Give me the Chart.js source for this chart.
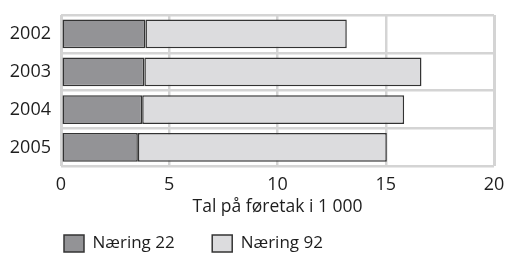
<!DOCTYPE html>
<html>
<head>
<meta charset="utf-8">
<script src="https://cdn.jsdelivr.net/npm/chart.js@4/dist/chart.umd.min.js"></script>
<style>
    html, body { margin: 0; padding: 0; background: #fff; }
    #wrap { width: 505px; height: 256px; }
</style>
</head>
<body>
<div id="wrap"><canvas id="chart"></canvas></div>
<script>
// Data
const YEARS = ['2002', '2003', '2004', '2005'];
const NAERING_22 = [3.9, 3.85, 3.75, 3.55];
const NAERING_92 = [9.3, 12.8, 12.1, 11.5];
const X_MIN = 0;
const X_MAX = 20;
const X_STEP = 5;

const FONT = "'Open Sans', 'Noto Sans', sans-serif";
const GRID = '#d4d4d4';
const TEXT = '#1e1e1e';
const LEGEND_PAD = 37.5;

// Flytter legend til ønsket plass (Chart.js har ikke egen offset for dette)
const legendPlace = {
    id: 'legendPlace',
    beforeDraw(chart) {
        chart.legend.left = 64 - LEGEND_PAD;
        chart.legend.top = 235 - LEGEND_PAD;
    }
};

new Chart(document.getElementById('chart'), {
    type: 'bar',
    data: {
        labels: YEARS,
        datasets: [
            {
                label: 'Næring 22',
                data: NAERING_22,
                backgroundColor: '#939396',
                borderColor: '#333333',
                borderWidth: 1.5,
                borderSkipped: false
            },
            {
                label: 'Næring 92',
                data: NAERING_92,
                backgroundColor: '#dcdcde',
                borderColor: '#333333',
                borderWidth: 1.5,
                borderSkipped: false
            }
        ]
    },
    options: {
        indexAxis: 'y',
        responsive: true,
        maintainAspectRatio: false,
        animation: false,
        categoryPercentage: 1,
        barPercentage: 0.76,
        layout: { padding: { top: 15, right: 11, left: 0, bottom: 0 } },
        plugins: {
            tooltip: { enabled: false },
            legend: {
                position: 'bottom',
                align: 'start',
                maxHeight: 38,
                labels: {
                    boxWidth: 20,
                    boxHeight: 17,
                    padding: LEGEND_PAD,
                    color: TEXT,
                    font: { family: FONT, size: 17 }
                }
            }
        },
        scales: {
            x: {
                stacked: true,
                min: X_MIN,
                max: X_MAX,
                afterFit(scale) { scale.paddingRight = 11; },
                ticks: {
                    stepSize: X_STEP,
                    padding: 8,
                    color: TEXT,
                    font: { family: FONT, size: 18 }
                },
                grid: {
                    color: GRID,
                    lineWidth: (ctx) => (ctx.tick && (ctx.tick.value === X_MIN || ctx.tick.value === X_MAX)) ? 3 : 2.5,
                    drawTicks: false
                },
                border: { display: false },
                title: {
                    display: true,
                    text: 'Tal på føretak i 1 000',
                    color: TEXT,
                    font: { family: FONT, size: 17.5 },
                    padding: { top: -7, bottom: 0 }
                }
            },
            y: {
                stacked: true,
                afterFit(scale) {
                    scale.width = 61;
                    scale.paddingTop = 0;
                    scale.paddingBottom = 0;
                },
                ticks: {
                    padding: 10,
                    color: TEXT,
                    font: { family: FONT, size: 18 }
                },
                grid: {
                    color: GRID,
                    lineWidth: 2.5,
                    offset: true,
                    drawTicks: false
                },
                border: { display: false }
            }
        }
    },
    plugins: [legendPlace]
});
</script>
</body>
</html>
